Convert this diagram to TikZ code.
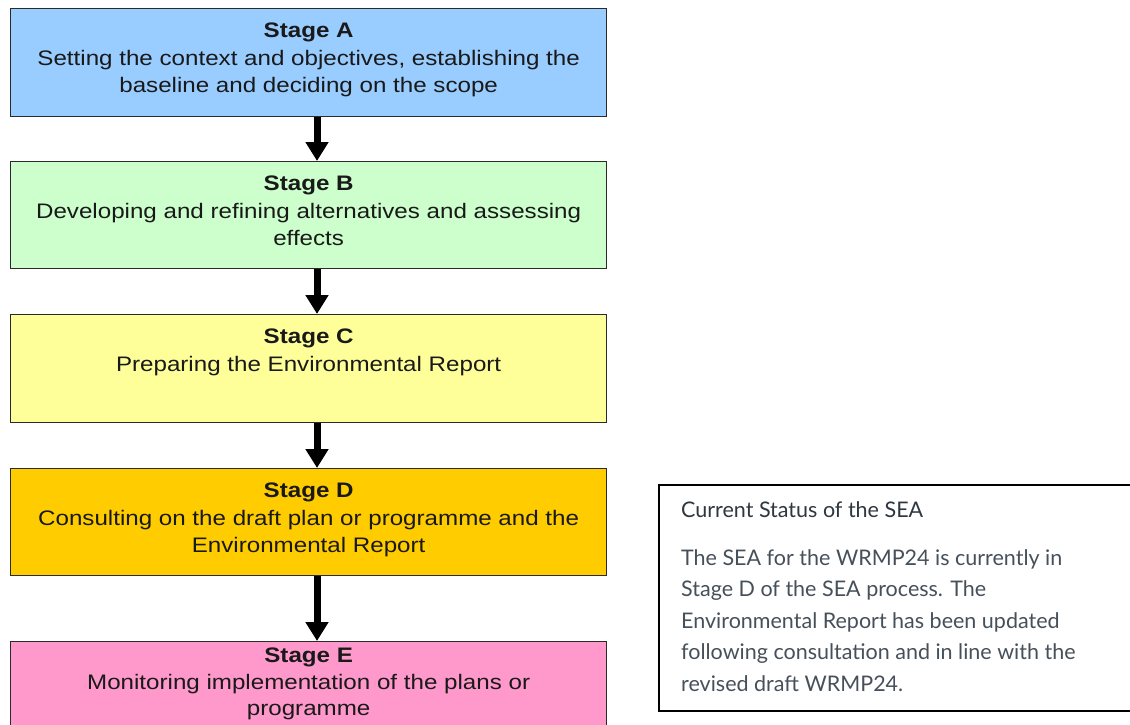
\documentclass[tikz,border=0pt]{standalone}
\usepackage{fontspec}
\setmainfont{Liberation Sans}[FakeStretch=1.15]
\newfontfamily\sidefont{Lato}
\usetikzlibrary{arrows.meta}
\definecolor{cA}{HTML}{99CCFF}
\definecolor{cB}{HTML}{CCFFCC}
\definecolor{cC}{HTML}{FFFF99}
\definecolor{cD}{HTML}{FFCC00}
\definecolor{cE}{HTML}{FF99CC}
\definecolor{bordercol}{HTML}{2A2A2A}
\definecolor{sidetext}{HTML}{46505A}
\definecolor{sidetitlecol}{HTML}{2E3740}
\tikzset{
  x=1pt, y=-1pt,
  stagebox/.style={draw=bordercol, line width=1.3pt, anchor=north west, minimum width=596pt, inner sep=0pt},
  stagetext/.style={anchor=north, align=center, inner sep=0pt, text=black!90, font=\fontsize{21}{27.5}\selectfont},
  flow/.style={line width=7pt, -{Triangle[length=19pt,width=22pt]}, black},
  sidebox/.style={draw=black, line width=1.6pt, anchor=north west, minimum width=520pt, minimum height=226pt, inner sep=0pt},
  sidetitle/.style={anchor=base west, inner sep=0pt, text=sidetitlecol, font=\sidefont\fontsize{21.5}{31}\selectfont},
  sidebody/.style={anchor=base west, align=left, inner sep=0pt, text=sidetext, font=\sidefont\fontsize{21.5}{31.5}\selectfont},
}
\begin{document}
\begin{tikzpicture}
\useasboundingbox (0,0) rectangle (1130,724);
\clip (0,0) rectangle (1130,724);
\node[stagebox, fill=cA, minimum height=108pt] (A) at (10,8) {};
\node[stagebox, fill=cB, minimum height=107pt] (B) at (10,161) {};
\node[stagebox, fill=cC, minimum height=108pt] (C) at (10,314) {};
\node[stagebox, fill=cD, minimum height=107pt] (D) at (10,468) {};
\node[stagebox, fill=cE, minimum height=110pt] (E) at (10,641) {};

\node[stagetext] (At) at ([yshift=-15pt]A.north) {\textbf{Stage A}\\Setting the context and objectives, establishing the\\baseline and deciding on the scope};
\node[stagetext] (Bt) at ([yshift=-15pt]B.north) {\textbf{Stage B}\\Developing and refining alternatives and assessing\\effects};
\node[stagetext] (Ct) at ([yshift=-15pt]C.north) {\textbf{Stage C}\\Preparing the Environmental Report};
\node[stagetext] (Dt) at ([yshift=-15pt]D.north) {\textbf{Stage D}\\Consulting on the draft plan or programme and the\\Environmental Report};
\node[stagetext, font=\fontsize{21}{26.5}\selectfont] (Et) at ([yshift=-7pt]E.north) {\textbf{Stage E}\\Monitoring implementation of the plans or\\programme};

\coordinate (ax) at (317,0);
\draw[flow] (A.south -| ax) -- (B.north -| ax);
\draw[flow] (B.south -| ax) -- (C.north -| ax);
\draw[flow] (C.south -| ax) -- (D.north -| ax);
\draw[flow] (D.south -| ax) -- (E.north -| ax);

\node[sidebox] (S) at (658,484) {};
\node[sidetitle] (St) at (681,517) {Current Status of the SEA};
\node[sidebody] (Sb) at (681,691) {The SEA for the WRMP24 is currently in\\Stage D of the SEA process. The\\Environmental Report has been updated\\following consultation and in line with the\\revised draft WRMP24.};
\end{tikzpicture}
\end{document}
